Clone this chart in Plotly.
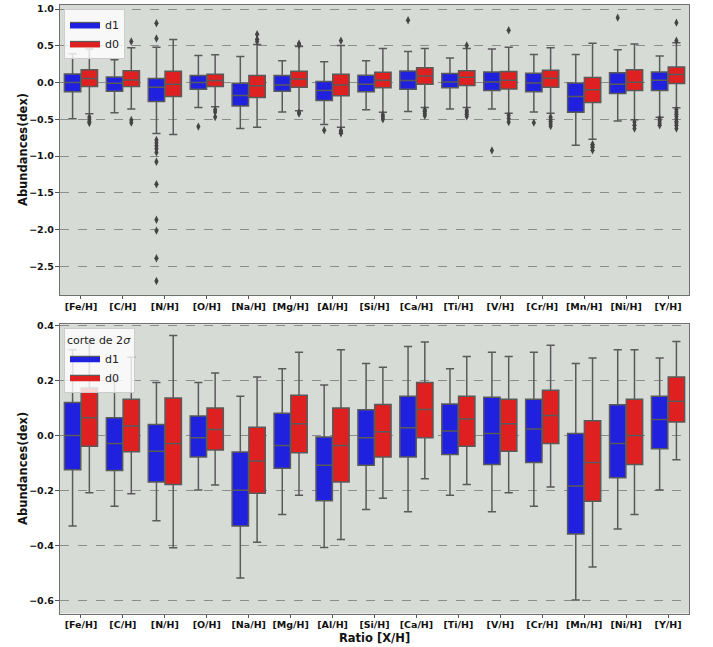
import plotly.graph_objects as go

# Element ratios on the x axis
categories = ["[Fe/H]", "[C/H]", "[N/H]", "[O/H]", "[Na/H]", "[Mg/H]", "[Al/H]",
              "[Si/H]", "[Ca/H]", "[Ti/H]", "[V/H]", "[Cr/H]", "[Mn/H]", "[Ni/H]", "[Y/H]"]

# ---- Full sample: box statistics (dex) ----
full_d1_low = [-0.491, -0.41, -0.694, -0.338, -0.626, -0.401, -0.572,
               -0.369, -0.392, -0.36, -0.36, -0.401, -0.851, -0.523, -0.473]
full_d1_q1 = [-0.126, -0.117, -0.257, -0.09, -0.32, -0.117, -0.243,
              -0.126, -0.09, -0.072, -0.108, -0.126, -0.405, -0.149, -0.108]
full_d1_med = [0.0, -0.009, -0.063, 0.0, -0.176, -0.032, -0.108,
               -0.023, 0.027, 0.009, 0.009, -0.005, -0.189, -0.023, 0.032]
full_d1_q3 = [0.117, 0.077, 0.054, 0.095, -0.009, 0.095, 0.014,
              0.099, 0.158, 0.122, 0.144, 0.126, -0.005, 0.135, 0.144]
full_d1_high = [0.392, 0.311, 0.482, 0.369, 0.356, 0.297, 0.284,
                0.297, 0.423, 0.333, 0.455, 0.383, 0.383, 0.446, 0.36]
full_d1_out = [[], [], [0.806, 0.599, -0.78, -0.82, -0.86, -0.9, -0.95, -1.077,
                       -1.383, -1.865, -2.014, -2.39, -2.70],
               [-0.599], [], [], [-0.649],
               [], [0.847], [], [-0.923], [-0.545], [], [0.883],
               [-0.49, -0.52, -0.55, -0.58]]

full_d0_low = [-0.423, -0.36, -0.707, -0.329, -0.608, -0.383, -0.608,
               -0.405, -0.338, -0.338, -0.419, -0.419, -0.77, -0.505, -0.342]
full_d0_q1 = [-0.054, -0.054, -0.189, -0.054, -0.203, -0.063, -0.18,
              -0.072, -0.023, -0.041, -0.086, -0.063, -0.27, -0.108, -0.014]
full_d0_med = [0.054, 0.036, -0.023, 0.027, -0.045, 0.05, -0.032,
               0.032, 0.09, 0.072, 0.032, 0.059, -0.099, 0.005, 0.108]
full_d0_q3 = [0.176, 0.162, 0.153, 0.113, 0.095, 0.153, 0.113,
              0.14, 0.203, 0.162, 0.149, 0.167, 0.068, 0.176, 0.212]
full_d0_high = [0.455, 0.473, 0.586, 0.378, 0.518, 0.491, 0.505,
                0.464, 0.464, 0.464, 0.482, 0.473, 0.536, 0.523, 0.541]
full_d0_out = [[-0.47, -0.5, -0.53, -0.55],
               [0.559, -0.51, -0.545],
               [],
               [-0.37, -0.40, -0.468],
               [0.658, 0.59, 0.559],
               [0.53, 0.51, -0.405, -0.423],
               [0.568, -0.65, -0.67, -0.69],
               [-0.437, -0.468, -0.5],
               [-0.37, -0.39, -0.42, -0.45],
               [0.505, -0.378, -0.4, -0.43, -0.46],
               [0.712, -0.446, -0.49, -0.536],
               [-0.468, -0.5, -0.53, -0.56, -0.59],
               [-0.838, -0.86, -0.88, -0.92],
               [-0.536, -0.58, -0.626],
               [0.815, 0.568, -0.37, -0.4, -0.43, -0.46, -0.5, -0.53, -0.55, -0.58, -0.626]]

# ---- 2-sigma clipped sample: box statistics (dex) ----
cut_d1_low = [-0.329, -0.257, -0.310, -0.198, -0.518, -0.287, -0.407,
              -0.269, -0.277, -0.217, -0.277, -0.257, -0.598, -0.340, -0.198]
cut_d1_q1 = [-0.125, -0.127, -0.169, -0.078, -0.329, -0.119, -0.237,
             -0.108, -0.078, -0.069, -0.106, -0.098, -0.358, -0.154, -0.048]
cut_d1_med = [0.0, -0.029, -0.057, -0.008, -0.199, -0.037, -0.108,
              -0.008, 0.028, 0.016, 0.007, 0.023, -0.184, -0.029, 0.058]
cut_d1_q3 = [0.120, 0.064, 0.040, 0.071, -0.060, 0.081, -0.006,
             0.093, 0.142, 0.114, 0.139, 0.131, 0.007, 0.111, 0.142]
cut_d1_high = [0.311, 0.202, 0.192, 0.192, 0.142, 0.242, 0.183,
               0.261, 0.323, 0.242, 0.302, 0.302, 0.261, 0.311, 0.281]

cut_d0_low = [-0.208, -0.212, -0.408, -0.180, -0.388, -0.217, -0.378,
              -0.228, -0.157, -0.178, -0.208, -0.187, -0.478, -0.287, -0.088]
cut_d0_q1 = [-0.039, -0.059, -0.178, -0.053, -0.210, -0.063, -0.169,
             -0.078, -0.008, -0.039, -0.057, -0.029, -0.239, -0.106, 0.049]
cut_d0_med = [0.064, 0.034, -0.029, 0.022, -0.093, 0.042, -0.037,
              0.013, 0.094, 0.060, 0.042, 0.072, -0.098, 0.0, 0.124]
cut_d0_q3 = [0.172, 0.131, 0.136, 0.100, 0.030, 0.146, 0.100,
             0.112, 0.192, 0.142, 0.131, 0.164, 0.053, 0.131, 0.212]
cut_d0_high = [0.340, 0.284, 0.363, 0.227, 0.212, 0.302, 0.311,
               0.248, 0.339, 0.287, 0.287, 0.328, 0.281, 0.311, 0.341]

BLUE = "#2020df"
RED = "#df2020"
EDGE = "#5a5a5a"
FLIER = "#444444"
BG = "#d6dbd6"
GRID = "#8c8c8c"
FONT = "DejaVu Sans"

n = len(categories)
idx = list(range(n))
HALF = 0.2
pos_d1 = [i - HALF for i in idx]
pos_d0 = [i + HALF for i in idx]

fig = go.Figure()


def add_boxes(xaxis, yaxis, pos, low, q1, med, q3, high, color):
    fig.add_trace(go.Box(
        x=pos, q1=q1, median=med, q3=q3, lowerfence=low, upperfence=high,
        width=0.39, whiskerwidth=0.5, fillcolor=color,
        line=dict(color=EDGE, width=1.5), boxpoints=False,
        showlegend=False, hoverinfo="skip",
        xaxis=xaxis, yaxis=yaxis,
    ))


def add_fliers(xaxis, yaxis, pos, outliers):
    xs, ys = [], []
    for p, vals in zip(pos, outliers):
        for v in vals:
            xs.append(p)
            ys.append(v)
    fig.add_trace(go.Scatter(
        x=xs, y=ys, mode="markers", showlegend=False, hoverinfo="skip",
        marker=dict(symbol="diamond-tall", size=6, color=FLIER),
        xaxis=xaxis, yaxis=yaxis,
    ))


def add_legend_patch(xaxis, yaxis, color, name, legend):
    # empty filled trace: gives a flat rectangular swatch in the legend
    fig.add_trace(go.Scatter(
        x=[None], y=[None], mode="lines", fill="toself", fillcolor=color,
        line=dict(color=EDGE, width=1.2), name=name, legend=legend,
        showlegend=True, hoverinfo="skip", xaxis=xaxis, yaxis=yaxis,
    ))


# upper panel: full sample
add_boxes("x", "y", pos_d1, full_d1_low, full_d1_q1, full_d1_med, full_d1_q3,
          full_d1_high, BLUE)
add_boxes("x", "y", pos_d0, full_d0_low, full_d0_q1, full_d0_med, full_d0_q3,
          full_d0_high, RED)
add_fliers("x", "y", pos_d1, full_d1_out)
add_fliers("x", "y", pos_d0, full_d0_out)
add_legend_patch("x", "y", BLUE, "d1", "legend")
add_legend_patch("x", "y", RED, "d0", "legend")

# lower panel: 2-sigma clipped sample
add_boxes("x2", "y2", pos_d1, cut_d1_low, cut_d1_q1, cut_d1_med, cut_d1_q3,
          cut_d1_high, BLUE)
add_boxes("x2", "y2", pos_d0, cut_d0_low, cut_d0_q1, cut_d0_med, cut_d0_q3,
          cut_d0_high, RED)
add_legend_patch("x2", "y2", BLUE, "d1", "legend2")
add_legend_patch("x2", "y2", RED, "d0", "legend2")

W, H = 713, 647
x_dom = [60 / W, 689 / W]
top_dom = [1 - 292.3 / H, 1.0]
bot_dom = [1 - 613.3 / H, 1 - 321.7 / H]

TICKFONT = dict(family=FONT, size=9.5, color="#111111", weight="bold")

xcommon = dict(
    range=[-0.5, n - 0.5], tickvals=idx, ticktext=categories,
    showgrid=False, zeroline=False, showline=True, mirror=True,
    linecolor="#707070", linewidth=1.3, ticks="outside", ticklen=3,
    ticklabelstandoff=-1,
    tickcolor="#555555", tickfont=TICKFONT,
    domain=x_dom,
)
ycommon = dict(
    showgrid=True, gridcolor=GRID, griddash="dash", gridwidth=0.8,
    zeroline=False, showline=True, mirror=True,
    linecolor="#707070", linewidth=1.3, ticks="outside", ticklen=4,
    tickcolor="#555555", tickformat=".1f", ticklabelstandoff=-1,
    tickfont=TICKFONT,
)

legend_common = dict(
    bgcolor="rgba(255,255,255,0.8)", bordercolor="#cccccc", borderwidth=1,
    font=dict(family=FONT, size=11, color="#222222"),
    xanchor="left", yanchor="top", itemwidth=30, tracegroupgap=0,
)

fig.update_layout(
    width=W, height=H,
    margin=dict(l=0, r=0, t=0, b=0),
    paper_bgcolor="white", plot_bgcolor=BG,
    boxmode="overlay",
    xaxis=dict(**xcommon, anchor="y"),
    yaxis=dict(**ycommon, domain=top_dom, range=[-2.89, 1.055],
               tickvals=[1.0, 0.5, 0.0, -0.5, -1.0, -1.5, -2.0, -2.5], anchor="x"),
    xaxis2=dict(**xcommon, anchor="y2"),
    yaxis2=dict(**ycommon, domain=bot_dom, range=[-0.647, 0.404],
                tickvals=[0.4, 0.2, 0.0, -0.2, -0.4, -0.6], anchor="x2"),
    legend=dict(**legend_common, x=64 / W, y=1 - 4 / H),
    legend2=dict(**legend_common, x=64 / W, y=1 - 326 / H,
                 title=dict(text="corte de 2<i>σ</i>",
                            font=dict(family=FONT, size=11, color="#222222"),
                            side="top")),
    showlegend=True,
)

# axis titles
for dom in (top_dom, bot_dom):
    fig.add_annotation(text="Abundances(dex)", textangle=-90, xref="paper", yref="paper",
                       x=23 / W, y=(dom[0] + dom[1]) / 2, xanchor="center", yanchor="middle",
                       showarrow=False,
                       font=dict(family=FONT, size=11.5, color="#111111", weight="bold"))
fig.add_annotation(text="Ratio [X/H]", xref="paper", yref="paper",
                   x=(x_dom[0] + x_dom[1]) / 2, y=1 - 637.5 / H,
                   xanchor="center", yanchor="middle", showarrow=False,
                   font=dict(family=FONT, size=11.5, color="#111111", weight="bold"))

fig.write_html("out.html")
